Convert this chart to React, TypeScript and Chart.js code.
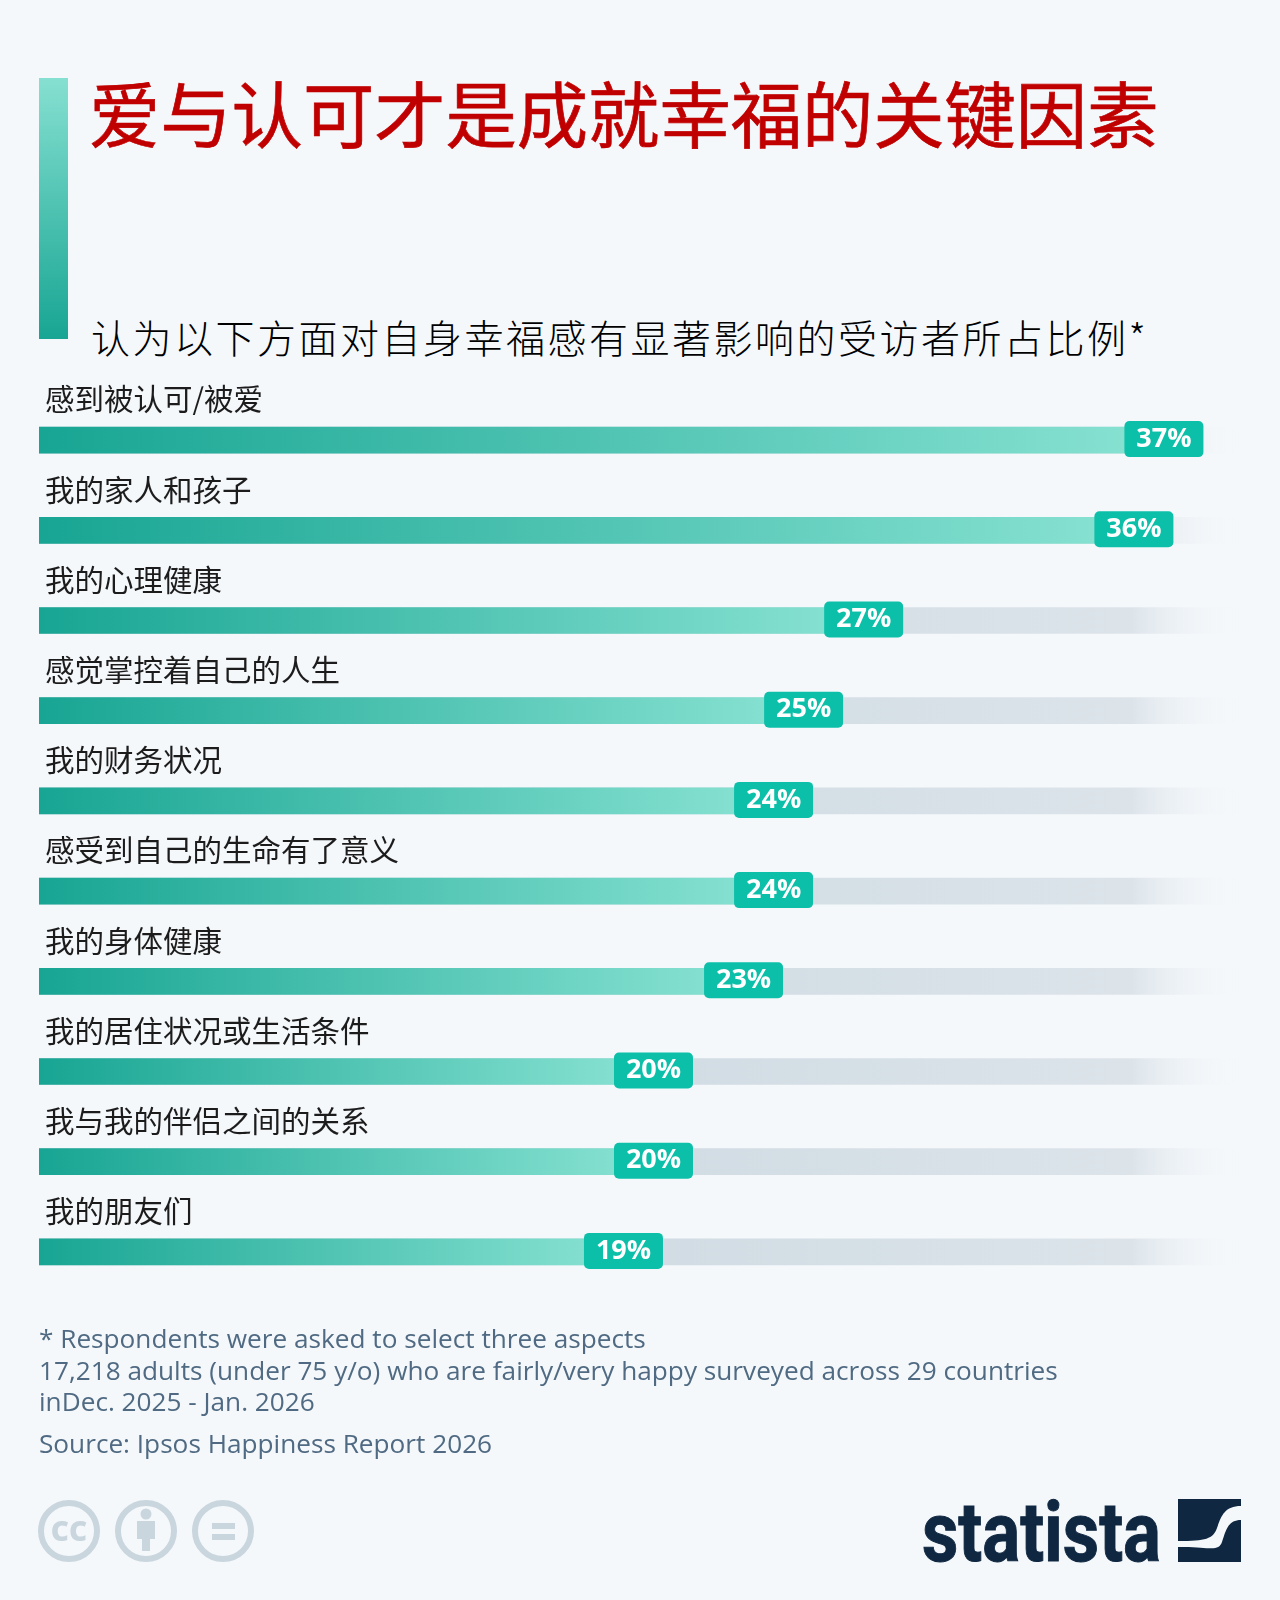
import React, { useEffect, useRef } from "react";
import { Chart, registerables } from "chart.js";

Chart.register(...registerables);

const categories = [
  "感到被认可/被爱",
  "我的家人和孩子",
  "我的心理健康",
  "感觉掌控着自己的人生",
  "我的财务状况",
  "感受到自己的生命有了意义",
  "我的身体健康",
  "我的居住状况或生活条件",
  "我与我的伴侣之间的关系",
  "我的朋友们",
];
const shares = [37, 36, 27, 25, 24, 24, 23, 20, 20, 19];
const trackShares = [40, 40, 40, 40, 40, 40, 40, 40, 40, 40];

const titleText = "爱与认可才是成就幸福的关键因素";
const subtitleText = "认为以下方面对自身幸福感有显著影响的受访者所占比例*";
const noteLines = [
  "* Respondents were asked to select three aspects",
  "17,218 adults (under 75 y/o) who are fairly/very happy surveyed across 29 countries",
  "inDec. 2025 - Jan. 2026",
];
const sourceText = "Source: Ipsos Happiness Report 2026";

const CJK = '"Noto Sans CJK SC", sans-serif';
const LATIN = '"Open Sans", sans-serif';
const BG = "#f5f8fb";
const DARK = "#0f2741";
const ICON = "#c9d6de";

const badgePlugin = {
  id: "badges",
  afterDatasetsDraw(chart: any) {
    const { ctx } = chart;
    const meta = chart.getDatasetMeta(0);
    ctx.save();
    meta.data.forEach((bar: any, i: number) => {
      const w = 79;
      const h = 36;
      const cx = bar.x + 14;
      const cy = bar.y - 1;
      ctx.beginPath();
      ctx.roundRect(cx - w / 2, cy - h / 2, w, h, 5);
      ctx.fillStyle = "#0bbfa9";
      ctx.fill();
      ctx.fillStyle = "#ffffff";
      ctx.font = `700 27px ${LATIN}`;
      ctx.textAlign = "center";
      ctx.textBaseline = "middle";
      ctx.fillText(`${shares[i]}%`, cx, cy);
    });
    ctx.restore();
  },
};

function abs(left: number, top: number, extra: any = {}) {
  return { position: "absolute", left, top, whiteSpace: "nowrap", ...extra } as React.CSSProperties;
}

export default function App() {
  const ref = useRef<HTMLCanvasElement>(null);

  useEffect(() => {
    document.body.style.margin = "0";
    document.body.style.background = BG;
    const chart = new Chart(ref.current!, {
      type: "bar",
      data: {
        labels: categories,
        datasets: [
          {
            label: "Share",
            data: shares,
            backgroundColor: (c: any) => {
              const area = c.chart.chartArea;
              if (!area || c.dataIndex === undefined) return "#1aa594";
              const x = c.chart.scales.x;
              const g = c.chart.ctx.createLinearGradient(
                x.getPixelForValue(0), 0, x.getPixelForValue(shares[c.dataIndex]), 0);
              g.addColorStop(0, "#18a593");
              g.addColorStop(1, "#88e2d2");
              return g;
            },
          },
          {
            label: "Track",
            data: trackShares,
            backgroundColor: (c: any) => {
              const area = c.chart.chartArea;
              if (!area) return "#d5dfe6";
              const g = c.chart.ctx.createLinearGradient(area.left, 0, area.right, 0);
              g.addColorStop(0, "#c2d1db");
              g.addColorStop(0.91, "#dce4ea");
              g.addColorStop(1, "rgba(245,248,251,0)");
              return g;
            },
          },
        ],
      },
      options: {
        indexAxis: "y",
        responsive: false,
        animation: false,
        devicePixelRatio: 1,
        layout: { padding: { left: 39, right: 40, top: 395, bottom: 303 } },
        datasets: { bar: { barThickness: 26, grouped: false, borderWidth: 0 } },
        plugins: { legend: { display: false }, tooltip: { enabled: false }, title: { display: false } },
        scales: {
          x: { display: false, min: 0, max: 40, grid: { display: false } },
          y: {
            afterFit: (s: any) => { s.width = 0; },
            grid: { display: false, drawTicks: false },
            border: { display: false },
            ticks: {
              mirror: true,
              padding: 6,
              labelOffset: -41,
              color: "#1c1c1c",
              font: { family: CJK, size: 29.5, weight: "400" },
            },
          },
        },
      } as any,
      plugins: [badgePlugin],
    } as any);
    return () => chart.destroy();
  }, []);

  return (
    <div style={{ position: "absolute", left: 0, top: 0, width: 1280, height: 1600, overflow: "hidden", background: BG }}>
      <div style={abs(39, 78, { width: 29, height: 261, background: "linear-gradient(180deg,#86e0d1,#18a593)" })} />
      <div style={abs(89, 60, { fontFamily: CJK, fontSize: 71.3, fontWeight: 400, lineHeight: "103px", color: "#c00000", WebkitTextStroke: "0.7px #c00000" })}>{titleText}</div>
      <div style={abs(91, 309, { fontFamily: CJK, fontSize: 39, fontWeight: 300, lineHeight: "55px", letterSpacing: 2.5, color: "#000000" })}>{subtitleText}</div>
      <canvas ref={ref} width={1280} height={1600} style={{ position: "absolute", left: 0, top: 0 }} />
      <div style={abs(39, 1323, { fontFamily: LATIN, fontSize: 26.2, lineHeight: "31.6px", color: "#4f6a82" })}>
        {noteLines.map((l) => <div key={l}>{l}</div>)}
      </div>
      <div style={abs(39, 1427, { fontFamily: LATIN, fontSize: 26.2, lineHeight: "32px", color: "#4f6a82" })}>{sourceText}</div>
      <svg width={1280} height={1600} style={{ position: "absolute", left: 0, top: 0, pointerEvents: "none" }}>
        <g fill="none" stroke={ICON} strokeWidth={6}>
          <circle cx={69} cy={1531} r={28} />
          <circle cx={146} cy={1531} r={28} />
          <circle cx={223} cy={1531} r={28} />
        </g>
        <text x={69} y={1541} textAnchor="middle" fontFamily={LATIN} fontWeight={800} fontSize={28} fill={ICON}>CC</text>
        <circle cx={146} cy={1514} r={5.5} fill={ICON} />
        <path d="M137 1521 H155 V1539 H150 V1551 H142 V1539 H137 Z" fill={ICON} />
        <rect x={212} y={1523} width={23} height={6} fill={ICON} />
        <rect x={212} y={1534} width={23} height={6} fill={ICON} />
        <text x={922} y={1561} fontFamily="Roboto, sans-serif" fontWeight={700} fontSize={84} fill={DARK}
          stroke={DARK} strokeWidth={1} textLength={239} lengthAdjust="spacingAndGlyphs">statista</text>
        <g transform="translate(1178 1499)" fill={DARK}>
          <path d="M0 0 H63 V7 C46 7 43 18 39 29 C35 40 28 42 0 42 Z" />
          <path d="M63 21 C50 21 48 31 44 43 C40 54 30 47 0 48 V63 H63 Z" />
        </g>
      </svg>
    </div>
  );
}
